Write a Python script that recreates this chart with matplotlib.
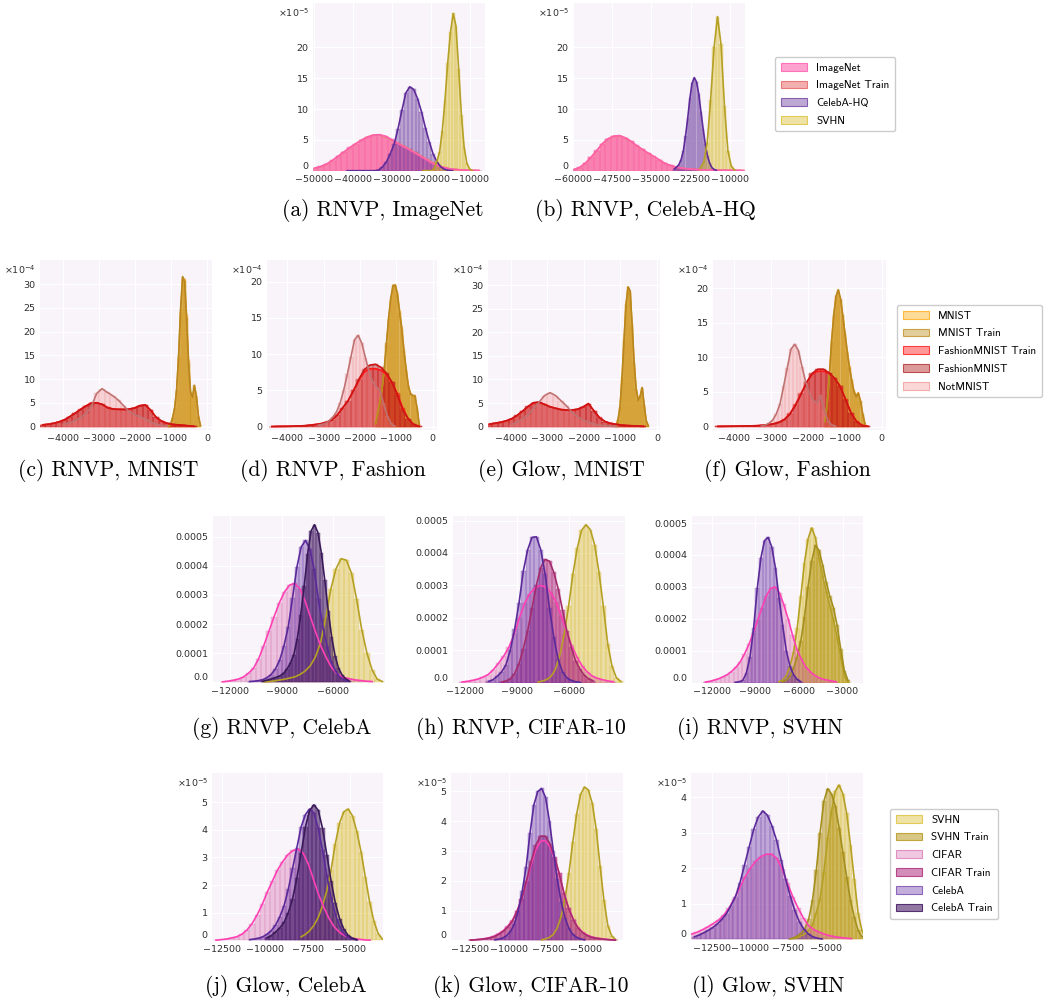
import numpy as np
import matplotlib
matplotlib.use("Agg")
import matplotlib.pyplot as plt
from matplotlib.patches import Patch
from matplotlib.colors import to_rgba

W, H = 1044, 998

# ---- (a) RNVP, ImageNet  (densities in units of 1e-5) ----
a_imagenet_start, a_imagenet_bin = -50500, 1500
a_imagenet = [0.45, 0.7, 1.1, 1.7, 2.4, 3.1, 3.8, 4.4, 5.0, 5.45, 5.75, 5.85, 5.6, 5.1, 4.5,
              3.95, 3.45, 2.9, 2.35, 1.8, 1.2, 0.8, 0.5, 0.3, 0.2, 0.12, 0.08, 0.05, 0.03]
a_imagenet_train = [0.4, 0.65, 1.05, 1.65, 2.35, 3.05, 3.75, 4.4, 5.0, 5.5, 5.8, 5.8, 5.5, 5.0, 4.55,
                    4.05, 3.55, 3.0, 2.45, 1.9, 1.35, 0.9, 0.55, 0.32, 0.2, 0.12, 0.08, 0.05, 0.03]
a_celebahq_start, a_celebahq_bin = -42000, 1000
a_celebahq = [0, 0, 0, 0, 0, 0, 0, 0, 0.1, 0.6, 1.4, 2.7, 4.3, 6.8, 9.8, 12.6, 13.6, 13.2,
              11.7, 9.6, 7.0, 4.7, 2.7, 1.4, 0.6, 0.2, 0.05, 0]
a_svhn_start, a_svhn_bin = -22400, 700
a_svhn = [0, 0, 0, 0, 0.3, 1.5, 3.0, 6.5, 11.5, 17.5, 22.5, 25.5, 23.5, 16.5, 9.0, 3.8, 1.2, 0.3, 0]

# ---- (b) RNVP, CelebA-HQ (1e-5) ----
b_imagenet_start, b_imagenet_bin = -60500, 1800
b_imagenet = [0.2, 0.55, 1.25, 2.2, 3.3, 4.4, 5.2, 5.6, 5.7, 5.35, 4.8, 4.1, 3.5, 2.9, 2.35, 1.8,
              1.2, 0.85, 0.6, 0.42, 0.3, 0.22, 0.17, 0.13, 0.1, 0.08, 0.07, 0.06, 0.05, 0.04, 0.03]
b_imagenet_train = [0.18, 0.5, 1.2, 2.15, 3.25, 4.35, 5.15, 5.55, 5.65, 5.3, 4.75, 4.05, 3.45, 2.85,
                    2.3, 1.75, 1.2, 0.85, 0.6, 0.42, 0.3, 0.22, 0.17, 0.13, 0.1, 0.08, 0.07, 0.06,
                    0.05, 0.04, 0.03]
b_celebahq_start, b_celebahq_bin = -28000, 700
b_celebahq = [0.3, 0.6, 1.0, 1.8, 3.2, 5.6, 8.5, 11.8, 14.2, 15.1, 14.4, 12.5, 9.6, 6.8, 4.3, 2.4,
              1.2, 0.5, 0.2, 0.05]
b_svhn_start, b_svhn_bin = -20000, 1100
b_svhn = [0.4, 1.3, 4.5, 11.5, 20.0, 25.0, 20.5, 10.5, 3.2, 0.7, 0.1]

# ---- (c) RNVP, MNIST (1e-4) ----
c_mnist_start, c_mnist_bin = -1100, 55
c_mnist = [0.05, 0.6, 2.0, 3.8, 7.5, 14.5, 24.0, 31.0, 31.0, 23.5, 14.0, 7.5, 6.0, 8.3, 6.5, 2.3, 0.3]
c_mnist_train = [0.05, 0.55, 1.9, 3.9, 7.8, 15.0, 24.8, 31.6, 30.6, 22.8, 13.4, 7.2, 6.2, 8.7, 6.2,
                 2.1, 0.25]
c_fashion_start, c_fashion_bin = -4650, 150
c_fashion_train = [0.35, 0.5, 0.7, 1.0, 1.45, 2.1, 2.85, 3.65, 4.4, 5.0, 5.05, 4.7, 4.05, 3.75, 3.65,
                   3.6, 3.7, 3.95, 4.45, 4.55, 3.45, 1.95, 1.15, 0.7, 0.45, 0.35, 0.25, 0.15, 0.08]
c_fashion = [0.4, 0.5, 0.7, 1.0, 1.4, 2.1, 2.8, 3.6, 4.3, 4.9, 5.0, 4.7, 4.0, 3.7, 3.65, 3.65, 3.7,
             3.9, 4.4, 4.6, 3.5, 2.0, 1.2, 0.75, 0.5, 0.4, 0.3, 0.2, 0.1]
c_notmnist_start, c_notmnist_bin = -4050, 150
c_notmnist = [0.5, 0.8, 1.25, 1.9, 2.7, 4.2, 7.0, 8.0, 7.2, 6.5, 5.6, 4.4, 3.2, 2.5, 2.1, 1.6, 1.0,
              0.55, 0.25, 0.1]

# ---- (d) RNVP, Fashion (1e-4) ----
d_mnist_start, d_mnist_bin = -1600, 60
d_mnist = [0.5, 2.0, 3.5, 5.3, 7.8, 11.3, 14.8, 17.5, 19.3, 19.6, 18.5, 16.0, 13.7, 10.6, 8.0, 5.7,
           4.6, 4.2, 4.2, 2.5, 0.3]
d_mnist_train = [0.4, 1.8, 3.4, 5.4, 8.1, 11.6, 15.1, 17.8, 19.5, 19.5, 18.2, 15.7, 13.4, 10.4, 7.8,
                 5.6, 4.5, 4.3, 4.3, 2.6, 0.3]
d_fashion_start, d_fashion_bin = -4500, 150
d_fashion_train = [0.02, 0.03, 0.04, 0.05, 0.07, 0.1, 0.13, 0.2, 0.3, 0.42, 0.62, 0.95, 1.6, 2.6, 3.6,
                   5.0, 6.4, 7.6, 8.0, 8.0, 7.8, 7.2, 6.1, 4.6, 2.6, 1.1, 0.3, 0.05]
d_fashion = [0.02, 0.03, 0.04, 0.05, 0.07, 0.1, 0.13, 0.2, 0.28, 0.4, 0.6, 0.9, 1.6, 2.6, 3.6, 5.0,
             6.6, 7.9, 8.5, 8.6, 8.2, 7.4, 6.2, 4.4, 2.3, 1.1, 0.3, 0.05]
d_notmnist_start, d_notmnist_bin = -3200, 100
d_notmnist = [0.2, 0.3, 0.45, 0.8, 1.3, 2.0, 3.2, 5.0, 7.2, 9.6, 12.0, 12.6, 11.5, 9.5, 7.6, 6.2,
              5.5, 5.0, 3.2, 1.5, 0.45, 0.1]

# ---- (e) Glow, MNIST (1e-4) ----
e_mnist_start, e_mnist_bin = -1150, 55
e_mnist = [0.15, 1.5, 4.2, 10.5, 18.5, 26.0, 29.5, 28.5, 21.5, 13.5, 8.0, 5.7, 6.5, 8.2, 4.5, 1.2, 0.2]
e_mnist_train = [0.1, 1.4, 4.0, 10.2, 18.2, 25.8, 29.6, 28.8, 21.8, 13.6, 8.0, 5.6, 6.4, 8.3, 4.6,
                 1.3, 0.2]
e_fashion_start, e_fashion_bin = -4650, 150
e_fashion_train = [0.5, 0.7, 0.9, 1.2, 1.65, 2.35, 3.25, 4.25, 5.0, 5.15, 4.75, 4.25, 3.9, 3.65, 3.5,
                   3.5, 3.65, 4.1, 4.8, 3.4, 1.95, 1.1, 0.7, 0.5, 0.35, 0.25, 0.18, 0.12, 0.07]
e_fashion = [0.55, 0.75, 0.95, 1.25, 1.7, 2.4, 3.3, 4.3, 5.1, 5.2, 4.7, 4.2, 3.9, 3.6, 3.5, 3.55, 3.7,
             4.2, 4.9, 3.3, 1.9, 1.1, 0.7, 0.5, 0.35, 0.25, 0.2, 0.12, 0.08]
e_notmnist_start, e_notmnist_bin = -4050, 150
e_notmnist = [0.45, 0.9, 1.6, 2.5, 3.8, 5.2, 6.6, 7.2, 6.6, 5.5, 4.4, 3.1, 2.1, 1.4, 0.95, 0.6, 0.35,
              0.2, 0.1, 0.05]

# ---- (f) Glow, Fashion (1e-4) ----
f_mnist_start, f_mnist_bin = -1560, 60
f_mnist = [0.8, 3.5, 7.6, 12.5, 16.3, 18.8, 19.6, 18.3, 16.0, 13.5, 11.0, 8.7, 6.8, 5.2, 4.4, 4.9,
           3.6, 1.7, 0.4]
f_mnist_train = [0.7, 3.3, 7.4, 12.3, 16.2, 18.9, 19.8, 18.5, 16.1, 13.4, 10.8, 8.5, 6.7, 5.1, 4.3,
                 4.8, 3.7, 1.8, 0.4]
f_fashion_start, f_fashion_bin = -4500, 150
f_fashion_train = [0.02, 0.03, 0.04, 0.05, 0.06, 0.08, 0.1, 0.12, 0.18, 0.27, 0.4, 0.62, 1.05, 1.9,
                   3.2, 4.8, 6.4, 7.6, 8.0, 8.0, 7.7, 7.0, 5.9, 4.0, 2.0, 0.75, 0.18, 0.04]
f_fashion = [0.02, 0.03, 0.04, 0.05, 0.06, 0.08, 0.1, 0.12, 0.17, 0.25, 0.38, 0.6, 1.0, 1.8, 3.1, 4.7,
             6.4, 7.7, 8.3, 8.3, 7.8, 7.0, 5.8, 3.9, 1.9, 0.7, 0.15, 0.03]
f_notmnist_start, f_notmnist_bin = -3300, 100
f_notmnist = [0.1, 0.2, 0.45, 0.9, 1.8, 3.2, 5.8, 8.5, 11.2, 11.9, 11.0, 8.6, 6.4, 4.8, 3.8, 3.4, 4.5,
              2.4, 0.8, 0.25, 0.05]

# ---- (g) RNVP, CelebA (1e-4) ----
g_svhn_start, g_svhn_bin = -10200, 300
g_svhn = [0.01, 0.02, 0.04, 0.07, 0.1, 0.14, 0.18, 0.26, 0.38, 0.56, 0.86, 1.35, 2.2, 3.2, 3.9, 4.25,
          4.2, 3.75, 2.85, 1.8, 1.0, 0.42, 0.1, 0.02]
g_cifar_start, g_cifar_bin = -12600, 300
g_cifar = [0.01, 0.03, 0.06, 0.1, 0.17, 0.3, 0.47, 0.8, 1.25, 1.75, 2.25, 2.72, 3.1, 3.34, 3.4, 3.22,
           2.8, 2.27, 1.75, 1.27, 0.88, 0.55, 0.32, 0.2, 0.14, 0.1, 0.07, 0.05, 0.03, 0.02]
g_celeba_start, g_celeba_bin = -11000, 250
g_celeba = [0.02, 0.03, 0.05, 0.08, 0.15, 0.26, 0.45, 0.75, 1.25, 1.9, 2.9, 3.95, 4.65, 4.88, 4.6,
            3.9, 2.85, 1.95, 1.25, 0.7, 0.38, 0.17, 0.08, 0.03]
g_celeba_train_start, g_celeba_train_bin = -10200, 200
g_celeba_train = [0.03, 0.06, 0.09, 0.13, 0.17, 0.22, 0.3, 0.45, 0.65, 0.95, 1.5, 2.3, 3.3, 4.4, 5.2,
                  5.42, 5.15, 4.45, 3.5, 2.45, 1.55, 0.9, 0.48, 0.25, 0.12, 0.05]

# ---- (h) RNVP, CIFAR-10 (1e-4) ----
h_svhn_start, h_svhn_bin = -7900, 250
h_svhn = [0.02, 0.05, 0.1, 0.2, 0.42, 0.85, 1.5, 2.35, 3.35, 4.15, 4.7, 4.87, 4.72, 4.25, 3.4, 2.35,
          1.2, 0.5, 0.15, 0.04]
h_cifar_start, h_cifar_bin = -12300, 300
h_cifar = [0.02, 0.04, 0.07, 0.11, 0.17, 0.25, 0.4, 0.6, 0.82, 1.1, 1.5, 2.0, 2.45, 2.75, 2.92, 3.0,
           2.95, 2.78, 2.5, 2.05, 1.6, 1.15, 0.8, 0.52, 0.33, 0.2, 0.13, 0.09, 0.05, 0.03]
h_cifar_train_start, h_cifar_train_bin = -10000, 250
h_cifar_train = [0.02, 0.05, 0.12, 0.28, 0.58, 1.05, 1.6, 2.3, 3.0, 3.55, 3.8, 3.75, 3.4, 2.9, 2.25,
                 1.6, 1.1, 0.68, 0.42, 0.23, 0.12, 0.06]
h_celeba_start, h_celeba_bin = -10750, 250
h_celeba = [0.04, 0.09, 0.2, 0.33, 0.55, 1.0, 1.65, 2.45, 3.45, 4.1, 4.48, 4.5, 4.1, 3.35, 2.3, 1.4,
            0.72, 0.33, 0.15, 0.07, 0.03, 0.01]

# ---- (i) RNVP, SVHN (1e-4) ----
i_svhn_start, i_svhn_bin = -7500, 250
i_svhn = [0.03, 0.08, 0.22, 0.5, 0.95, 1.7, 2.7, 3.75, 4.5, 4.85, 4.55, 3.9, 3.35, 2.85, 2.4, 1.95,
          1.4, 0.8, 0.2, 0.03]
i_svhn_train_start, i_svhn_train_bin = -7250, 250
i_svhn_train = [0.03, 0.08, 0.2, 0.45, 0.8, 1.3, 2.05, 3.0, 3.8, 4.3, 4.15, 3.7, 3.15, 2.7, 2.35, 1.8,
                1.05, 0.38, 0.07]
i_cifar_start, i_cifar_bin = -12600, 300
i_cifar = [0.02, 0.04, 0.08, 0.12, 0.18, 0.25, 0.35, 0.48, 0.65, 0.9, 1.2, 1.55, 1.95, 2.35, 2.72,
           2.95, 3.0, 2.82, 2.45, 2.0, 1.5, 1.05, 0.75, 0.5, 0.35, 0.24, 0.16, 0.11, 0.08, 0.05, 0.03]
i_celeba_start, i_celeba_bin = -10500, 250
i_celeba = [0.01, 0.03, 0.07, 0.3, 0.8, 1.7, 2.95, 3.9, 4.45, 4.55, 4.25, 3.6, 2.65, 1.8, 1.0, 0.52,
            0.25, 0.1, 0.03]

# ---- (j) Glow, CelebA (1e-5) ----
j_svhn_start, j_svhn_bin = -8000, 250
j_svhn = [0.13, 0.22, 0.35, 0.55, 0.83, 1.25, 1.8, 2.55, 3.5, 4.25, 4.65, 4.75, 4.5, 3.95, 3.2, 2.3,
          1.4, 0.7, 0.25, 0.05]
j_cifar_start, j_cifar_bin = -13000, 300
j_cifar = [0.01, 0.03, 0.05, 0.09, 0.13, 0.22, 0.37, 0.6, 0.92, 1.3, 1.75, 2.15, 2.55, 2.85, 3.1,
           3.25, 3.3, 3.15, 2.75, 2.2, 1.65, 1.2, 0.8, 0.5, 0.3, 0.18, 0.1, 0.06, 0.04, 0.02, 0.01]
j_celeba_start, j_celeba_bin = -11000, 250
j_celeba = [0.03, 0.05, 0.08, 0.13, 0.22, 0.35, 0.55, 0.85, 1.25, 1.85, 2.6, 3.35, 4.1, 4.55, 4.75,
            4.6, 4.05, 3.25, 2.35, 1.55, 0.95, 0.52, 0.25, 0.11, 0.05, 0.02]
j_celeba_train_start, j_celeba_train_bin = -10000, 250
j_celeba_train = [0.1, 0.17, 0.3, 0.45, 0.65, 1.0, 1.5, 2.25, 3.15, 4.1, 4.7, 4.9, 4.7, 4.05, 3.1,
                  2.15, 1.35, 0.78, 0.4, 0.18, 0.08, 0.03]

# ---- (k) Glow, CIFAR-10 (1e-5) ----
k_svhn_start, k_svhn_bin = -8000, 250
k_svhn = [0.02, 0.05, 0.1, 0.2, 0.42, 0.8, 1.4, 2.25, 3.3, 4.25, 4.9, 5.15, 5.05, 4.6, 3.75, 2.5, 1.35,
          0.5, 0.15, 0.03]
k_cifar_start, k_cifar_bin = -12600, 300
k_cifar = [0.01, 0.02, 0.04, 0.06, 0.09, 0.14, 0.22, 0.32, 0.48, 0.68, 1.0, 1.4, 1.95, 2.55, 3.05,
           3.33, 3.35, 3.15, 2.75, 2.25, 1.6, 1.1, 0.72, 0.44, 0.28, 0.18, 0.12, 0.08, 0.06, 0.04,
           0.02, 0.01]
k_cifar_train = [0.01, 0.02, 0.03, 0.05, 0.08, 0.12, 0.2, 0.3, 0.45, 0.65, 0.98, 1.4, 2.0, 2.65, 3.2,
                 3.5, 3.5, 3.25, 2.8, 2.25, 1.6, 1.08, 0.7, 0.42, 0.26, 0.16, 0.1, 0.07, 0.05, 0.03,
                 0.02, 0.01]
k_celeba_start, k_celeba_bin = -11000, 250
k_celeba = [0.02, 0.04, 0.08, 0.16, 0.3, 0.55, 1.0, 1.65, 2.45, 3.6, 4.55, 5.0, 5.1, 4.8, 4.0, 3.0,
            2.05, 1.3, 0.75, 0.4, 0.2, 0.1, 0.05, 0.02]

# ---- (l) Glow, SVHN (1e-5) ----
l_svhn_start, l_svhn_bin = -7250, 250
l_svhn = [0.02, 0.05, 0.1, 0.15, 0.25, 0.42, 0.75, 1.15, 1.9, 2.85, 3.6, 4.18, 4.35, 4.1, 3.55, 2.65,
          1.7, 0.75, 0.25, 0.04]
l_svhn_train_start, l_svhn_train_bin = -7500, 250
l_svhn_train = [0.01, 0.04, 0.09, 0.17, 0.3, 0.57, 1.1, 1.95, 3.0, 3.9, 4.25, 4.1, 3.75, 3.15, 2.45,
                1.75, 1.1, 0.62, 0.25, 0.08, 0.02]
l_cifar_start, l_cifar_bin = -14000, 350
l_cifar = [0.15, 0.2, 0.27, 0.35, 0.44, 0.54, 0.68, 0.88, 1.15, 1.45, 1.75, 2.0, 2.2, 2.33, 2.4, 2.4,
           2.28, 1.98, 1.58, 1.2, 0.88, 0.6, 0.38, 0.27, 0.2, 0.14, 0.1, 0.07, 0.05, 0.03, 0.02]
l_celeba_start, l_celeba_bin = -13800, 300
l_celeba = [0.07, 0.12, 0.18, 0.25, 0.33, 0.43, 0.56, 0.72, 0.95, 1.2, 1.6, 2.1, 2.6, 3.1, 3.45, 3.62,
            3.5, 3.2, 2.8, 2.25, 1.7, 1.23, 0.82, 0.5, 0.29, 0.15, 0.07, 0.03, 0.01]

# tick labels
x_ticks_a = [-50000, -40000, -30000, -20000, -10000]
x_ticks_b = [-60000, -47500, -35000, -22500, -10000]
x_ticks_mnist = [-4000, -3000, -2000, -1000, 0]
x_ticks_rnvp = [-12000, -9000, -6000]
x_ticks_rnvp_svhn = [-12000, -9000, -6000, -3000]
x_ticks_glow = [-12500, -10000, -7500, -5000]
dec_labels = ["0.0", "0.0001", "0.0002", "0.0003", "0.0004", "0.0005"]

# name -> (bar colour, bar alpha, line colour)
STYLE = {
    "ImageNet": ("#ff69b4", 0.62, "#ff5fae"),
    "ImageNet Train": ("#e86060", 0.5, "#f0866a"),
    "CelebA-HQ": ("#663399", 0.42, "#5f2a9a"),
    "SVHN": ("#d8bc2a", 0.42, "#b5a024"),
    "MNIST": ("#ffa500", 0.4, "#e6a22e"),
    "MNIST Train": ("#b8860b", 0.4, "#b8861e"),
    "FashionMNIST Train": ("#ff0000", 0.4, "#ff1a1a"),
    "FashionMNIST": ("#b22222", 0.45, "#cc1414"),
    "NotMNIST": ("#f08080", 0.3, "#c07272"),
    "SVHN Train": ("#b89a22", 0.55, "#a38e1e"),
    "CIFAR": ("#d462a9", 0.35, "#ff40b4"),
    "CIFAR Train": ("#b0307e", 0.55, "#a42c6c"),
    "CelebA": ("#6a35a5", 0.4, "#5b2a9a"),
    "CelebA Train": ("#4a2068", 0.6, "#3b1a5a"),
}
BG = "#f8f4fa"
TICK_SIZE = 6.8

fig = plt.figure(figsize=(W / 100, H / 100), dpi=100)
fig.patch.set_facecolor("white")


def rect(box):
    x0, y0, x1, y1 = box
    return [x0 / W, 1 - y1 / H, (x1 - x0) / W, (y1 - y0) / H]


def panel(box, series, xlim, ylim, xticks, yticks, unit, ylabels=None, power=None, zero_up=False):
    ax = fig.add_axes(rect(box))
    ax.set_facecolor(BG)
    for name, start, width, vals in series:
        bar_c, bar_a, line_c = STYLE[name]
        h = np.asarray(vals, dtype=float) * unit
        centers = start + width * (np.arange(len(h)) + 0.5)
        ax.bar(centers, h, width=width, color=to_rgba(bar_c, bar_a),
               edgecolor=to_rgba(bar_c, min(1.0, bar_a + 0.12)), linewidth=0.35)
        ax.plot(centers, h, color=line_c, lw=1.2)
    ax.set_xlim(*xlim)
    ax.set_ylim(ylim[0] * unit, ylim[1] * unit)
    ax.set_xticks(xticks)
    ax.set_yticks([t * unit for t in yticks])
    if ylabels is None:
        ylabels = [str(t) for t in yticks]
    ax.set_yticklabels(ylabels)
    ax.grid(True, color="white", lw=0.9)
    ax.set_axisbelow(True)
    for s in ax.spines.values():
        s.set_visible(False)
    ax.tick_params(length=0, labelsize=TICK_SIZE, labelcolor="#2e2e2e", pad=3.2)
    if zero_up:
        ax.yaxis.get_major_ticks()[0].label1.set_verticalalignment("bottom")
    if power is not None:
        ax.annotate(r"$\times10^{%s}$" % power, xy=(0, 1), xycoords="axes fraction",
                    xytext=(-4, -10), textcoords="offset pixels", ha="right", va="center",
                    fontsize=TICK_SIZE, color="#2e2e2e")
    return ax


# ImageNet Train is drawn under ImageNet so the pink stays on top
panel((313, 3, 485, 171),
      [("ImageNet Train", a_imagenet_start, a_imagenet_bin, a_imagenet_train),
       ("ImageNet", a_imagenet_start, a_imagenet_bin, a_imagenet),
       ("CelebA-HQ", a_celebahq_start, a_celebahq_bin, a_celebahq),
       ("SVHN", a_svhn_start, a_svhn_bin, a_svhn)],
      (-50300, -6200), (-0.05, 27.2), x_ticks_a, [0, 5, 10, 15, 20], 1e-5, power="-5", zero_up=True)

panel((573, 3, 745, 171),
      [("ImageNet Train", b_imagenet_start, b_imagenet_bin, b_imagenet_train),
       ("ImageNet", b_imagenet_start, b_imagenet_bin, b_imagenet),
       ("CelebA-HQ", b_celebahq_start, b_celebahq_bin, b_celebahq),
       ("SVHN", b_svhn_start, b_svhn_bin, b_svhn)],
      (-60000, -5200), (-0.05, 27.2), x_ticks_b, [0, 5, 10, 15, 20], 1e-5, power="-5", zero_up=True)

panel((40, 260, 212, 430),
      [("MNIST", c_mnist_start, c_mnist_bin, c_mnist),
       ("MNIST Train", c_mnist_start, c_mnist_bin, c_mnist_train),
       ("FashionMNIST Train", c_fashion_start, c_fashion_bin, c_fashion_train),
       ("FashionMNIST", c_fashion_start, c_fashion_bin, c_fashion),
       ("NotMNIST", c_notmnist_start, c_notmnist_bin, c_notmnist)],
      (-4650, 130), (-0.7, 35.1), x_ticks_mnist, [0, 5, 10, 15, 20, 25, 30], 1e-4, power="-4")

panel((267, 260, 437, 430),
      [("MNIST", d_mnist_start, d_mnist_bin, d_mnist),
       ("MNIST Train", d_mnist_start, d_mnist_bin, d_mnist_train),
       ("FashionMNIST Train", d_fashion_start, d_fashion_bin, d_fashion_train),
       ("FashionMNIST", d_fashion_start, d_fashion_bin, d_fashion),
       ("NotMNIST", d_notmnist_start, d_notmnist_bin, d_notmnist)],
      (-4560, 120), (-0.46, 23.0), x_ticks_mnist, [0, 5, 10, 15, 20], 1e-4, power="-4")

panel((488, 260, 660, 430),
      [("MNIST", e_mnist_start, e_mnist_bin, e_mnist),
       ("MNIST Train", e_mnist_start, e_mnist_bin, e_mnist_train),
       ("FashionMNIST Train", e_fashion_start, e_fashion_bin, e_fashion_train),
       ("FashionMNIST", e_fashion_start, e_fashion_bin, e_fashion),
       ("NotMNIST", e_notmnist_start, e_notmnist_bin, e_notmnist)],
      (-4620, 80), (-0.7, 35.3), x_ticks_mnist, [0, 5, 10, 15, 20, 25, 30], 1e-4, power="-4")

panel((713, 260, 886, 430),
      [("MNIST", f_mnist_start, f_mnist_bin, f_mnist),
       ("MNIST Train", f_mnist_start, f_mnist_bin, f_mnist_train),
       ("FashionMNIST Train", f_fashion_start, f_fashion_bin, f_fashion_train),
       ("FashionMNIST", f_fashion_start, f_fashion_bin, f_fashion),
       ("NotMNIST", f_notmnist_start, f_notmnist_bin, f_notmnist)],
      (-4560, 120), (-0.5, 24.1), x_ticks_mnist, [0, 5, 10, 15, 20], 1e-4, power="-4")

panel((213, 516, 385, 683),
      [("SVHN", g_svhn_start, g_svhn_bin, g_svhn),
       ("CIFAR", g_cifar_start, g_cifar_bin, g_cifar),
       ("CelebA", g_celeba_start, g_celeba_bin, g_celeba),
       ("CelebA Train", g_celeba_train_start, g_celeba_train_bin, g_celeba_train)],
      (-13000, -3000), (-0.03, 5.72), x_ticks_rnvp, [0, 1, 2, 3, 4, 5], 1e-4,
      ylabels=dec_labels, zero_up=True)

panel((453, 516, 625, 683),
      [("SVHN", h_svhn_start, h_svhn_bin, h_svhn),
       ("CIFAR", h_cifar_start, h_cifar_bin, h_cifar),
       ("CIFAR Train", h_cifar_train_start, h_cifar_train_bin, h_cifar_train),
       ("CelebA", h_celeba_start, h_celeba_bin, h_celeba)],
      (-12670, -2780), (-0.01, 5.14), x_ticks_rnvp, [0, 1, 2, 3, 4, 5], 1e-4,
      ylabels=dec_labels, zero_up=True)

panel((692, 516, 863, 683),
      [("SVHN", i_svhn_start, i_svhn_bin, i_svhn),
       ("SVHN Train", i_svhn_train_start, i_svhn_train_bin, i_svhn_train),
       ("CIFAR", i_cifar_start, i_cifar_bin, i_cifar),
       ("CelebA", i_celeba_start, i_celeba_bin, i_celeba)],
      (-13370, -1590), (-0.01, 5.22), x_ticks_rnvp_svhn, [0, 1, 2, 3, 4, 5], 1e-4,
      ylabels=dec_labels, zero_up=True)

panel((212, 773, 383, 941),
      [("SVHN", j_svhn_start, j_svhn_bin, j_svhn),
       ("CIFAR", j_cifar_start, j_cifar_bin, j_cifar),
       ("CelebA", j_celeba_start, j_celeba_bin, j_celeba),
       ("CelebA Train", j_celeba_train_start, j_celeba_train_bin, j_celeba_train)],
      (-13085, -3090), (-0.02, 6.05), x_ticks_glow, [0, 1, 2, 3, 4, 5], 1e-5, power="-5", zero_up=True)

panel((451, 773, 623, 941),
      [("SVHN", k_svhn_start, k_svhn_bin, k_svhn),
       ("CIFAR", k_cifar_start, k_cifar_bin, k_cifar),
       ("CIFAR Train", k_cifar_start, k_cifar_bin, k_cifar_train),
       ("CelebA", k_celeba_start, k_celeba_bin, k_celeba)],
      (-13700, -2650), (-0.02, 5.62), x_ticks_glow, [0, 1, 2, 3, 4, 5], 1e-5, power="-5", zero_up=True)

panel((691, 773, 863, 940),
      [("SVHN", l_svhn_start, l_svhn_bin, l_svhn),
       ("SVHN Train", l_svhn_train_start, l_svhn_train_bin, l_svhn_train),
       ("CIFAR", l_cifar_start, l_cifar_bin, l_cifar),
       ("CelebA", l_celeba_start, l_celeba_bin, l_celeba)],
      (-13880, -2550), (-0.02, 4.69), x_ticks_glow, [0, 1, 2, 3, 4], 1e-5, power="-5", zero_up=True)


def legend_at(names, x, y):
    handles = []
    for n in names:
        c, a, _ = STYLE[n]
        handles.append(Patch(facecolor=to_rgba(c, a), edgecolor=to_rgba(c, min(1.0, a + 0.3)),
                             linewidth=0.8, label=n))
    fig.legend(handles=handles, loc="upper left", bbox_to_anchor=(x / W, 1 - y / H),
               borderaxespad=0, prop={"family": "cmss10", "size": 8}, frameon=True,
               fancybox=True, edgecolor="#cccccc", framealpha=1, handlelength=2.4,
               handleheight=0.7, handletextpad=0.8, labelspacing=0.7, borderpad=0.5)


legend_at(["ImageNet", "ImageNet Train", "CelebA-HQ", "SVHN"], 775, 57)
legend_at(["MNIST", "MNIST Train", "FashionMNIST Train", "FashionMNIST", "NotMNIST"], 897, 305)
legend_at(["SVHN", "SVHN Train", "CIFAR", "CIFAR Train", "CelebA", "CelebA Train"], 890, 809)

captions = [
    ("(a) RNVP, ImageNet", 383, 211), ("(b) RNVP, CelebA-HQ", 645, 211),
    ("(c) RNVP, MNIST", 108, 470), ("(d) RNVP, Fashion", 333, 470),
    ("(e) Glow, MNIST", 561, 470), ("(f) Glow, Fashion", 787, 470),
    ("(g) RNVP, CelebA", 282, 728), ("(h) RNVP, CIFAR-10", 521, 728),
    ("(i) RNVP, SVHN", 760, 728), ("(j) Glow, CelebA", 286, 986),
    ("(k) Glow, CIFAR-10", 531, 986), ("(l) Glow, SVHN", 768, 986),
]
for text, x, y in captions:
    fig.text(x / W, 1 - y / H, text, ha="center", va="center", family="cmr10", fontsize=15.5)

fig.savefig("out.png", dpi=100, facecolor="white")
